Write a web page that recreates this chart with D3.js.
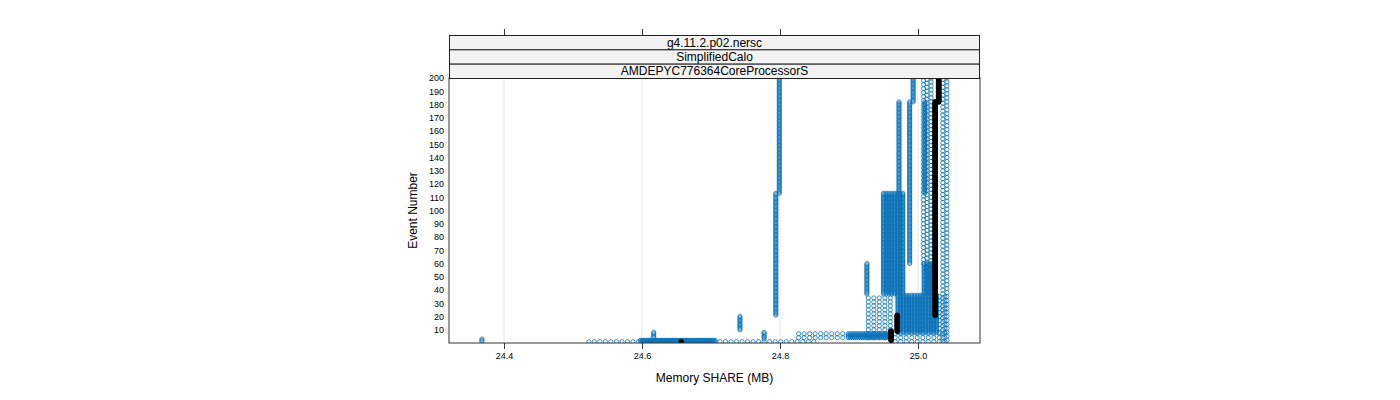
<!DOCTYPE html>
<html>
<head>
<meta charset="utf-8">
<script src="https://cdn.jsdelivr.net/npm/d3@7"></script>
<style>
  html, body { margin: 0; padding: 0; background: #fff; }
  svg { display: block; font-family: "Liberation Sans", Arial, sans-serif; }
</style>
</head>
<body>
<svg id="chart" width="1400" height="400"></svg>
<script>
// ---------------- data ----------------
const stripLabels = ["g4.11.2.p02.nersc", "SimplifiedCalo", "AMDEPYC776364CoreProcessorS"];
const memoryTicks = [24.4, 24.6, 24.8, 25.0];
const eventTicks = [10, 20, 30, 40, 50, 60, 70, 80, 90, 100, 110, 120, 130, 140, 150, 160, 170, 180, 190, 200];

// single-memory stretches of the blue runs: memory (MB), first event, last event, recording interval (events)
const stretchMB    = [24.368, 24.617, 24.742, 24.777, 24.794, 24.799, 24.926, 24.9725, 24.988, 24.993, 25.008, 25.010, 25.013, 25.019, 25.036, 25.042];
const stretchFirst = [1,      4,      10,     3,      21,     113,    37,     113,     60,     182,    60,     113,    37,     38,     1,      2];
const stretchLast  = [3,      8,      20,     8,      113,    200,    60,     182,     182,    200,    200,    182,    200,    200,    200,    200];
const stretchEvery = [1,      1,      1,      1,      1,      1,      1,      1,       1,      1,      3,      1,      3,      3,      3,      3];

// groups of runs sharing the same event range, memory values (MB)
const bandBottomLeftMB  = [24.523, 24.531, 24.539, 24.547, 24.555, 24.563, 24.571, 24.579, 24.587, 24.595];
const bandBottomDarkMB  = [24.598, 24.600, 24.602, 24.604, 24.606, 24.608, 24.610, 24.612, 24.614, 24.616, 24.618, 24.620, 24.622, 24.624,
                           24.626, 24.628, 24.630, 24.632, 24.634, 24.636, 24.638, 24.640, 24.642, 24.644, 24.646, 24.648, 24.650, 24.652,
                           24.654, 24.656, 24.658, 24.660, 24.662, 24.664, 24.666, 24.668, 24.670, 24.672, 24.674, 24.676, 24.678, 24.680,
                           24.682, 24.684, 24.686, 24.688, 24.690, 24.692, 24.694, 24.696, 24.698, 24.700, 24.702, 24.704, 24.706];
const bandBottomRightMB = [24.713, 24.721, 24.729, 24.737, 24.745, 24.753, 24.761, 24.769, 24.777, 24.785, 24.793, 24.801, 24.809, 24.817,
                           24.825, 24.833, 24.841, 24.849];
const bandLowLightMB    = [24.827, 24.835, 24.843, 24.851, 24.859, 24.867, 24.875, 24.883, 24.891];
const bandLowDarkMB     = [24.899, 24.902, 24.905, 24.908, 24.911, 24.914, 24.917, 24.920, 24.923, 24.926, 24.929, 24.932, 24.935, 24.938,
                           24.941, 24.944, 24.947, 24.950, 24.953, 24.956, 24.959];
const bandFloorRightMB  = [24.967, 24.975, 24.983, 24.991, 24.999, 25.007, 25.015, 25.023, 25.031, 25.039];
const bandMidDarkMB     = [24.971, 24.975, 24.979, 24.983, 24.987, 24.991, 24.995, 24.999, 25.003, 25.007, 25.011, 25.015, 25.019, 25.023, 25.027];
const bandMidLeftMB     = [24.928, 24.936, 24.944, 24.952, 24.960];
const bandMidRightMB    = [25.031, 25.039];
const bandUpperDarkMB   = [24.950, 24.954, 24.958, 24.962, 24.966, 24.970, 24.974, 24.978];
const bandRightDarkMB   = [25.009, 25.013, 25.017, 25.021, 25.025];
const bandGroups = [bandBottomLeftMB, bandBottomDarkMB, bandBottomRightMB, bandLowLightMB, bandLowDarkMB, bandFloorRightMB,
                    bandMidDarkMB, bandMidLeftMB, bandMidRightMB, bandUpperDarkMB, bandRightDarkMB];
const bandFirst = [1, 1, 1, 4, 4, 1, 8, 4, 8, 37, 37];
const bandLast  = [1, 2, 1, 7, 7, 7, 36, 36, 36, 113, 60];
const bandEvery = [1, 1, 1, 3, 1, 3, 1, 3, 3, 1, 1];

// highlighted (black) run
const refMB    = [24.657, 24.961, 24.970, 25.025, 25.030];
const refFirst = [1, 2, 9, 21, 182];
const refLast  = [1, 9, 21, 182, 200];

// ---------------- build points ----------------
const bluePts = [];
stretchMB.forEach((m, i) => { for (let e = stretchFirst[i]; e <= stretchLast[i]; e += stretchEvery[i]) bluePts.push({ m, e }); });
bandGroups.forEach((arr, i) => arr.forEach(m => { for (let e = bandFirst[i]; e <= bandLast[i]; e += bandEvery[i]) bluePts.push({ m, e }); }));
const blackPts = [];
refMB.forEach((m, i) => { for (let e = refFirst[i]; e <= refLast[i]; e++) blackPts.push({ m, e }); });

// ---------------- layout ----------------
const svg = d3.select("#chart");
const P = { left: 449, right: 980, top: 78, bottom: 343 };
const stripTop = 35, stripH = (P.top - stripTop) / 3;

const x = d3.scaleLinear().domain([24.3203, 25.0899]).range([P.left, P.right]);
const y = d3.scaleLinear().domain([0, 200]).range([P.bottom, P.top]);

svg.append("defs").append("clipPath").attr("id", "pclip")
  .append("rect").attr("x", P.left).attr("y", P.top).attr("width", P.right - P.left).attr("height", P.bottom - P.top);

// grid
svg.append("g").selectAll("line").data(memoryTicks).join("line")
  .attr("x1", d => x(d)).attr("x2", d => x(d)).attr("y1", P.top).attr("y2", P.bottom)
  .attr("stroke", "#e6e6e6").attr("stroke-width", 1);

// points
const pg = svg.append("g").attr("clip-path", "url(#pclip)");
pg.selectAll("circle.b").data(bluePts).join("circle").attr("class", "b")
  .attr("cx", d => x(d.m)).attr("cy", d => y(d.e)).attr("r", 2.1)
  .attr("fill", "none").attr("stroke", "#0b72b7").attr("stroke-width", 0.8);
pg.selectAll("circle.k").data(blackPts).join("circle").attr("class", "k")
  .attr("cx", d => x(d.m)).attr("cy", d => y(d.e)).attr("r", 2.8)
  .attr("fill", "#000");

// panel border
svg.append("rect").attr("x", P.left).attr("y", P.top).attr("width", P.right - P.left).attr("height", P.bottom - P.top)
  .attr("fill", "none").attr("stroke", "#333").attr("stroke-width", 1);

// strips
stripLabels.forEach((lab, i) => {
  const y0 = stripTop + i * stripH;
  svg.append("rect").attr("x", P.left + 0.5).attr("y", y0 + 0.5).attr("width", P.right - P.left - 1).attr("height", stripH)
    .attr("fill", "#f2f2f2").attr("stroke", "#222").attr("stroke-width", 1);
  svg.append("text").attr("x", (P.left + P.right) / 2).attr("y", y0 + stripH / 2 + 4.5)
    .attr("text-anchor", "middle").attr("font-size", 12).attr("fill", "#000").text(lab);
});

// bottom axis
const xb = d3.axisBottom(x).tickValues(memoryTicks).tickFormat(d3.format(".1f")).tickSize(6).tickPadding(4);
const gb = svg.append("g").attr("transform", `translate(0,${P.bottom})`).call(xb);
gb.select(".domain").remove();
gb.selectAll("line").attr("stroke", "#333");
gb.selectAll("text").attr("font-size", 9).attr("font-family", "Liberation Sans, Arial, sans-serif").attr("fill", "#000");

// top ticks (above strips)
const xt = d3.axisTop(x).tickValues(memoryTicks).tickFormat("").tickSize(6);
const gt = svg.append("g").attr("transform", `translate(0,${stripTop})`).call(xt);
gt.select(".domain").remove();
gt.selectAll("line").attr("stroke", "#333");

// left axis labels
const yl = d3.axisLeft(y).tickValues(eventTicks).tickSize(0).tickPadding(5);
const gl = svg.append("g").attr("transform", `translate(${P.left},0)`).call(yl);
gl.select(".domain").remove();
gl.selectAll("text").attr("font-size", 9).attr("font-family", "Liberation Sans, Arial, sans-serif").attr("fill", "#000");

// axis titles
svg.append("text").attr("x", (P.left + P.right) / 2).attr("y", 382).attr("text-anchor", "middle")
  .attr("font-size", 12).attr("fill", "#000").text("Memory SHARE (MB)");
svg.append("text").attr("transform", `translate(417,${(P.top + P.bottom) / 2}) rotate(-90)`).attr("text-anchor", "middle")
  .attr("font-size", 12).attr("fill", "#000").text("Event Number");
</script>
</body>
</html>
